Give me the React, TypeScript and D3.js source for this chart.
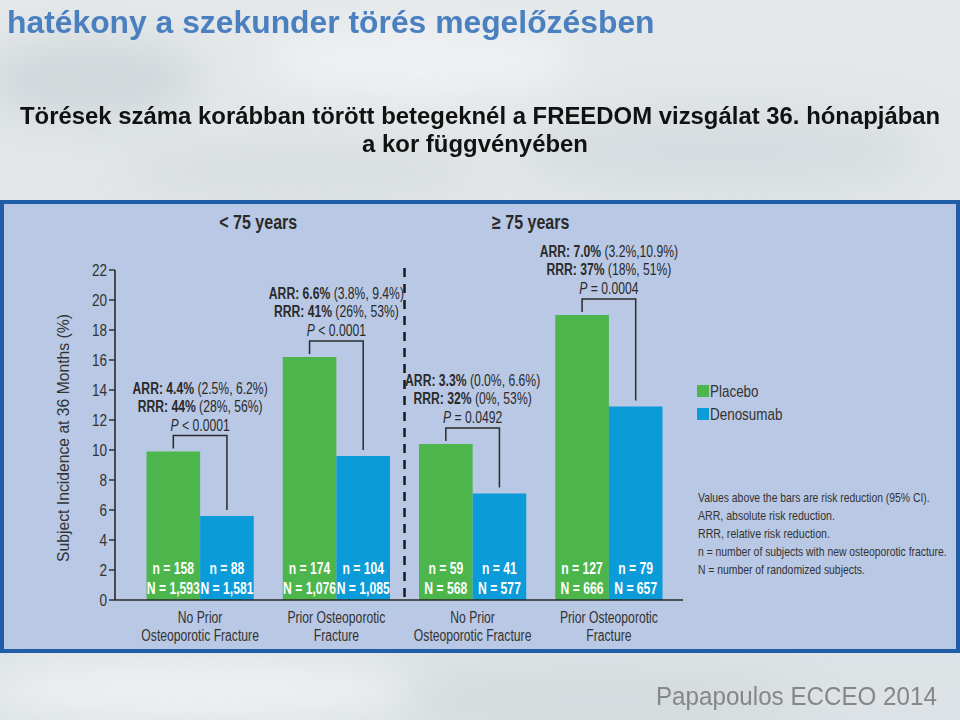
import React, { useLayoutEffect, useRef, useState } from 'react';
import * as d3 from 'd3';

// groups along the x axis (two lines each)
const categories = [
  ['No Prior', 'Osteoporotic Fracture'],
  ['Prior Osteoporotic', 'Fracture'],
  ['No Prior', 'Osteoporotic Fracture'],
  ['Prior Osteoporotic', 'Fracture'],
];
const ageGroups = ['< 75 years', '≥ 75 years'];
const seriesNames = ['Placebo', 'Denosumab'];

// subject incidence at 36 months (%)
const placebo = [9.9, 16.2, 10.4, 19.0];
const denosumab = [5.6, 9.6, 7.1, 12.9];

const placeboSmallN = ['158', '174', '59', '127'];
const placeboBigN = ['1,593', '1,076', '568', '666'];
const denoSmallN = ['88', '104', '41', '79'];
const denoBigN = ['1,581', '1,085', '577', '657'];

const arrValues = ['4.4%', '6.6%', '3.3%', '7.0%'];
const arrCI = ['(2.5%, 6.2%)', '(3.8%, 9.4%)', '(0.0%, 6.6%)', '(3.2%,10.9%)'];
const rrrValues = ['44%', '41%', '32%', '37%'];
const rrrCI = ['(28%, 56%)', '(26%, 53%)', '(0%, 53%)', '(18%, 51%)'];
const pValues = ['< 0.0001', '< 0.0001', '= 0.0492', '= 0.0004'];

const yTicks = [0, 2, 4, 6, 8, 10, 12, 14, 16, 18, 20, 22];

const notes = [
  'Values above the bars are risk reduction (95% CI).',
  'ARR, absolute risk reduction.',
  'RRR, relative risk reduction.',
  'n = number of subjects with new osteoporotic fracture.',
  'N = number of randomized subjects.',
];
const noteWidths = [232, 137, 132, 249, 167];

const GREEN = '#4cb64c';
const BLUE = '#0b9bd8';
const INK = '#2a2a2a';
const FONT = "'Liberation Sans', Arial, Helvetica, sans-serif";

// condensed text: fixed horizontal squeeze
const T = ({ x, y, sx = 0.78, size = 16, anchor = 'middle', weight = 'normal', fill = INK, children }: any) => (
  <text
    transform={`translate(${x},${y}) scale(${sx},1)`}
    fontSize={size}
    fontFamily={FONT}
    textAnchor={anchor}
    fontWeight={weight}
    fill={fill}
  >
    {children}
  </text>
);

// text squeezed/stretched to a measured target width
const FitText = ({ x, y, width, rotate = 0, anchor = 'start', size = 16, weight = 'normal', fill = INK, children }: any) => {
  const ref = useRef<SVGTextElement>(null);
  const [sx, setSx] = useState(1);
  useLayoutEffect(() => {
    if (!ref.current) return;
    const len = ref.current.getComputedTextLength();
    if (len > 0) setSx(width / len);
  }, [width, children]);
  return (
    <text
      ref={ref}
      transform={`translate(${x},${y}) rotate(${rotate}) scale(${sx},1)`}
      fontSize={size}
      fontFamily={FONT}
      fontWeight={weight}
      textAnchor={anchor}
      fill={fill}
    >
      {children}
    </text>
  );
};

export default function App() {
  const W = 960, H = 720;
  const y = d3.scaleLinear().domain([0, 22]).range([600, 270]);
  const x = d3.scaleBand<number>().domain(d3.range(categories.length))
    .range([132, 677]).paddingInner(0.213).paddingOuter(0.1065);
  const xs = d3.scaleBand<string>().domain(seriesNames).range([0, x.bandwidth()]);
  const bw = xs.bandwidth();
  const x0 = 115, xEnd = 683;
  const sepX = (x(1)! + x.bandwidth() + x(2)!) / 2;

  return (
    <svg width={W} height={H} style={{ position: 'absolute', left: 0, top: 0 }}>
      <defs>
        <filter id="blur" x="-20%" y="-20%" width="140%" height="140%">
          <feGaussianBlur stdDeviation="22" />
        </filter>
        <linearGradient id="bg" x1="0" y1="0" x2="0" y2="1">
          <stop offset="0%" stopColor="#e4e8ea" />
          <stop offset="100%" stopColor="#dce2e5" />
        </linearGradient>
      </defs>

      {/* cloudy background */}
      <rect width={W} height={H} fill="url(#bg)" />
      <g filter="url(#blur)">
        <ellipse cx={90} cy={80} rx={110} ry={40} fill="#c9d0d4" opacity={0.7} />
        <ellipse cx={420} cy={60} rx={160} ry={35} fill="#f2f4f5" opacity={0.8} />
        <ellipse cx={720} cy={150} rx={200} ry={40} fill="#cfd6d9" opacity={0.6} />
        <ellipse cx={300} cy={170} rx={180} ry={30} fill="#d2d8db" opacity={0.6} />
        <ellipse cx={200} cy={690} rx={220} ry={30} fill="#f3f5f6" opacity={0.8} />
        <ellipse cx={600} cy={700} rx={200} ry={25} fill="#cdd3d6" opacity={0.6} />
      </g>

      {/* headings */}
      <FitText x={7} y={33} width={648} size={32} weight="bold" fill="#4a7fc0">
        hatékony a szekunder törés megelőzésben
      </FitText>
      <FitText x={20} y={124} width={921} size={24} weight="bold" fill="#111">
        Törések száma korábban törött betegeknél a FREEDOM vizsgálat 36. hónapjában
      </FitText>
      <FitText x={475} y={152} width={226} size={24} weight="bold" fill="#111" anchor="middle">
        a kor függvényében
      </FitText>

      {/* chart panel */}
      <rect x={2} y={202} width={956} height={449} fill="#b9c8e4" stroke="#1f5ea6" strokeWidth={4} />

      {/* age group headers */}
      {ageGroups.map((g, i) => {
        const c = (x(i * 2)! + x(i * 2 + 1)! + x.bandwidth()) / 2 - 10;
        return <T key={g} x={c} y={229} size={20} sx={0.8} weight="bold">{g}</T>;
      })}

      {/* separator */}
      <line x1={sepX} x2={sepX} y1={268} y2={y(0)} stroke="#1a1a1a" strokeWidth={2.5} strokeDasharray="9,7" />

      {/* bars */}
      {categories.map((_, i) => {
        const gx = x(i)!;
        const px = gx + xs('Placebo')!;
        const dx = gx + xs('Denosumab')!;
        const pc = px + bw / 2, dc = dx + bw / 2;
        const by = y(placebo[i]) - 16;
        const gc = gx + x.bandwidth() / 2;
        return (
          <g key={i}>
            <rect x={px} y={y(placebo[i])} width={bw} height={y(0) - y(placebo[i])} fill={GREEN} />
            <rect x={dx} y={y(denosumab[i])} width={bw} height={y(0) - y(denosumab[i])} fill={BLUE} />
            <T x={pc} y={y(0) - 26} weight="bold" fill="#fff" sx={0.76}>n = {placeboSmallN[i]}</T>
            <T x={pc} y={y(0) - 6} weight="bold" fill="#fff" sx={0.76}>N = {placeboBigN[i]}</T>
            <T x={dc} y={y(0) - 26} weight="bold" fill="#fff" sx={0.76}>n = {denoSmallN[i]}</T>
            <T x={dc} y={y(0) - 6} weight="bold" fill="#fff" sx={0.76}>N = {denoBigN[i]}</T>

            {/* bracket */}
            <path
              d={`M${pc},${y(placebo[i]) - 3}V${by}H${dc}V${y(denosumab[i]) - 6}`}
              fill="none" stroke={INK} strokeWidth={1.5}
            />
            {/* risk reduction annotation */}
            <T x={gc} y={by - 42} sx={0.76}>
              <tspan fontWeight="bold">ARR: {arrValues[i]}</tspan> {arrCI[i]}
            </T>
            <T x={gc} y={by - 24} sx={0.76}>
              <tspan fontWeight="bold">RRR: {rrrValues[i]}</tspan> {rrrCI[i]}
            </T>
            <T x={gc} y={by - 5} sx={0.76}>
              <tspan fontStyle="italic">P</tspan> {pValues[i]}
            </T>

            {/* category label */}
            <T x={gc} y={623} sx={0.76} fill="#333">{categories[i][0]}</T>
            <T x={gc} y={641} sx={0.76} fill="#333">{categories[i][1]}</T>
          </g>
        );
      })}

      {/* axes */}
      <line x1={x0} x2={xEnd} y1={y(0)} y2={y(0)} stroke={INK} strokeWidth={1.6} />
      <line x1={x0} x2={x0} y1={y(22)} y2={y(0)} stroke={INK} strokeWidth={1.6} />
      {yTicks.map(t => (
        <g key={t}>
          <line x1={x0 - 6} x2={x0} y1={y(t)} y2={y(t)} stroke={INK} strokeWidth={1.4} />
          <T x={x0 - 8} y={y(t) + 6} size={17} sx={0.8} anchor="end" fill="#333">{t}</T>
        </g>
      ))}
      <FitText x={69} y={(y(0) + y(22)) / 2 + 3} rotate={-90} width={248} size={17} fill="#333" anchor="middle">
        Subject Incidence at 36 Months (%)
      </FitText>

      {/* legend */}
      {seriesNames.map((s, i) => (
        <g key={s}>
          <rect x={697} y={385 + i * 23} width={12} height={12} fill={i === 0 ? GREEN : BLUE} />
          <T x={710} y={397 + i * 23} size={16} sx={0.84} anchor="start" fill="#333">{s}</T>
        </g>
      ))}

      {/* notes */}
      {notes.map((n, i) => (
        <FitText key={i} x={698} y={502 + i * 18} width={noteWidths[i]} size={13} fill="#333">
          {n}
        </FitText>
      ))}

      {/* source */}
      <FitText x={656} y={705} width={281} size={26} fill="#868686">
        Papapoulos ECCEO 2014
      </FitText>
    </svg>
  );
}
